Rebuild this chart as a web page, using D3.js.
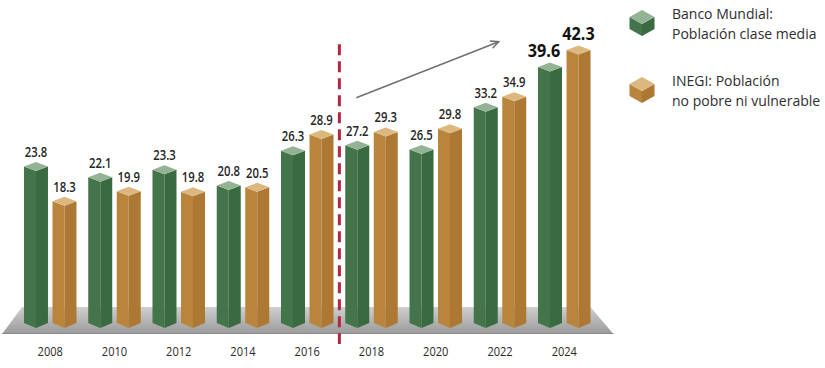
<!DOCTYPE html>
<html>
<head>
<meta charset="utf-8">
<script src="https://cdn.jsdelivr.net/npm/d3@7"></script>
<style>
  html, body { margin: 0; padding: 0; background: #ffffff; }
  svg { display: block; }
</style>
</head>
<body>
<svg id="chart" width="825" height="368"></svg>
<script>
// ---------- data ----------
const years = ["2008", "2010", "2012", "2014", "2016", "2018", "2020", "2022", "2024"];
const seriesNames = ["Banco Mundial", "INEGI"];
const bancoMundial = [23.8, 22.1, 23.3, 20.8, 26.3, 27.2, 26.5, 33.2, 39.6];
const inegi = [18.3, 19.9, 19.8, 20.5, 28.9, 29.3, 29.8, 34.9, 42.3];
const legendLines = [
  ["Banco Mundial:", "Población clase media"],
  ["INEGI: Población", "no pobre ni vulnerable"]
];

// ---------- styles ----------
const palette = {
  "Banco Mundial": { left: "#43744a", right: "#3a6a40", top: "#94b394" },
  "INEGI": { left: "#b9853d", right: "#ac7833", top: "#dcb77f" }
};
const font = "'Open Sans', sans-serif";

const svg = d3.select("#chart");

// ---------- scales ----------
const x = d3.scaleBand().domain(years).range([18.1, 596.4]).paddingInner(0).paddingOuter(0);
const inner = d3.scaleBand().domain(seriesNames)
  .range([x.bandwidth() / 2 - 26.25, x.bandwidth() / 2 + 26.25])
  .paddingInner(0.158).paddingOuter(0);
const y = d3.scaleLinear().domain([0, 45]).range([312, 312 - 45 * 6.3]);

const y0 = y(0);
const bw = inner.bandwidth();
const diamond = 9;
const sideBottom = y0 + 11;
const apexBottom = y0 + 16;

// ---------- floor ----------
const defs = svg.append("defs");
const grad = defs.append("linearGradient").attr("id", "floorGrad")
  .attr("x1", 0).attr("y1", 0).attr("x2", 0).attr("y2", 1);
grad.append("stop").attr("offset", "0%").attr("stop-color", "#cfcfcf");
grad.append("stop").attr("offset", "100%").attr("stop-color", "#9a9a9a");

const r = x.range();
const floorTop = y0 - 5, floorBottom = y0 + 22;
const pts = arr => arr.map(p => p.join(",")).join(" ");
svg.append("polygon")
  .attr("points", pts([
    [r[0] + 4, floorTop], [r[1] - 6, floorTop],
    [r[1] + 17, floorBottom], [r[0] - 16, floorBottom]
  ]))
  .attr("fill", "url(#floorGrad)");
svg.append("line")
  .attr("x1", r[0] - 16).attr("x2", r[1] + 17)
  .attr("y1", floorBottom - 0.5).attr("y2", floorBottom - 0.5)
  .attr("stroke", "#8a8a8a").attr("stroke-width", 1);

// ---------- bars ----------
const rows = [];
years.forEach((yr, i) => {
  rows.push({ year: yr, series: "Banco Mundial", value: bancoMundial[i], idx: i });
  rows.push({ year: yr, series: "INEGI", value: inegi[i], idx: i });
});

const g = svg.append("g");
const bar = g.selectAll("g.bar").data(rows).join("g").attr("class", "bar");

bar.each(function (d) {
  const gg = d3.select(this);
  const cx = x(d.year) + inner(d.series) + bw / 2;
  const yt = y(d.value);
  const hw = bw / 2;
  const c = palette[d.series];
  gg.append("polygon")
    .attr("points", pts([[cx - hw, yt + diamond / 2], [cx, yt + diamond], [cx, apexBottom], [cx - hw, sideBottom]]))
    .attr("fill", c.left);
  gg.append("polygon")
    .attr("points", pts([[cx, yt + diamond], [cx + hw, yt + diamond / 2], [cx + hw, sideBottom], [cx, apexBottom]]))
    .attr("fill", c.right);
  gg.append("polygon")
    .attr("points", pts([[cx, yt], [cx + hw, yt + diamond / 2], [cx, yt + diamond], [cx - hw, yt + diamond / 2]]))
    .attr("fill", c.top);

  const big = d.idx === years.length - 1;
  const dx = big && d.series === "Banco Mundial" ? -6 : 0;
  gg.append("text")
    .attr("transform", `translate(${cx + dx}, ${yt - (big ? 6 : 5)}) scale(${big ? 0.9 : 0.84}, 1)`)
    .attr("text-anchor", "middle")
    .attr("font-family", font)
    .attr("font-weight", big ? 700 : 600)
    .attr("font-size", big ? 18 : 13.5)
    .attr("fill", big ? "#111" : "#262626")
    .text(d.value.toFixed(1));
});

// ---------- x axis labels ----------
const xAxis = d3.axisBottom(x).tickSize(0).tickPadding(0);
const axG = svg.append("g").attr("transform", `translate(0, ${y0 + 34})`).call(xAxis);
axG.select(".domain").remove();
axG.selectAll(".tick text")
  .attr("font-family", font)
  .attr("font-size", 13.5)
  .attr("fill", "#2a2a2a")
  .attr("dy", "0.71em")
  .attr("transform", "scale(0.82,1)");

// ---------- dashed divider ----------
const divX = (x("2016") + inner("INEGI") + bw + x("2018") + inner("Banco Mundial")) / 2;
svg.append("line")
  .attr("x1", divX).attr("x2", divX)
  .attr("y1", y(42.5)).attr("y2", y0 + 32)
  .attr("stroke", "#b3263f").attr("stroke-width", 3)
  .attr("stroke-dasharray", "11,6");

// ---------- trend arrow ----------
const ax1 = x("2018") + inner("Banco Mundial") + bw / 2 - 1, ay1 = y(34.0);
const ax2 = x("2022") + inner("Banco Mundial") + bw + 1, ay2 = y(42.9);
svg.append("line")
  .attr("x1", ax1).attr("y1", ay1).attr("x2", ax2).attr("y2", ay2)
  .attr("stroke", "#707070").attr("stroke-width", 1.5);
const ang = Math.atan2(ay2 - ay1, ax2 - ax1);
const hl = 9, ha = 0.45;
svg.append("polyline")
  .attr("points", pts([
    [ax2 - hl * Math.cos(ang - ha), ay2 - hl * Math.sin(ang - ha)],
    [ax2, ay2],
    [ax2 - hl * Math.cos(ang + ha), ay2 - hl * Math.sin(ang + ha)]
  ]))
  .attr("fill", "none").attr("stroke", "#707070").attr("stroke-width", 1.5)
  .attr("stroke-linejoin", "miter");

// ---------- legend ----------
const leg = svg.append("g");
seriesNames.forEach((s, i) => {
  const cy = 23 + i * 67;
  const cx = 642;
  const c = palette[s];
  const w = 12.5, t = 7, h = 12;
  const lg = leg.append("g");
  lg.append("polygon").attr("points", pts([[cx - w, cy - t + 1], [cx, cy + 1], [cx, cy + h + 1], [cx - w, cy + h - t + 1]])).attr("fill", c.left);
  lg.append("polygon").attr("points", pts([[cx, cy + 1], [cx + w, cy - t + 1], [cx + w, cy + h - t + 1], [cx, cy + h + 1]])).attr("fill", c.right);
  lg.append("polygon").attr("points", pts([[cx, cy - 2 * t + 1], [cx + w, cy - t + 1], [cx, cy + 1], [cx - w, cy - t + 1]])).attr("fill", c.top);
  legendLines[i].forEach((line, j) => {
    lg.append("text")
      .attr("x", 672)
      .attr("y", cy - 4 + j * 20)
      .attr("font-family", font)
      .attr("font-size", 14)
      .attr("fill", "#2e2e2e")
      .text(line);
  });
});
</script>
</body>
</html>
